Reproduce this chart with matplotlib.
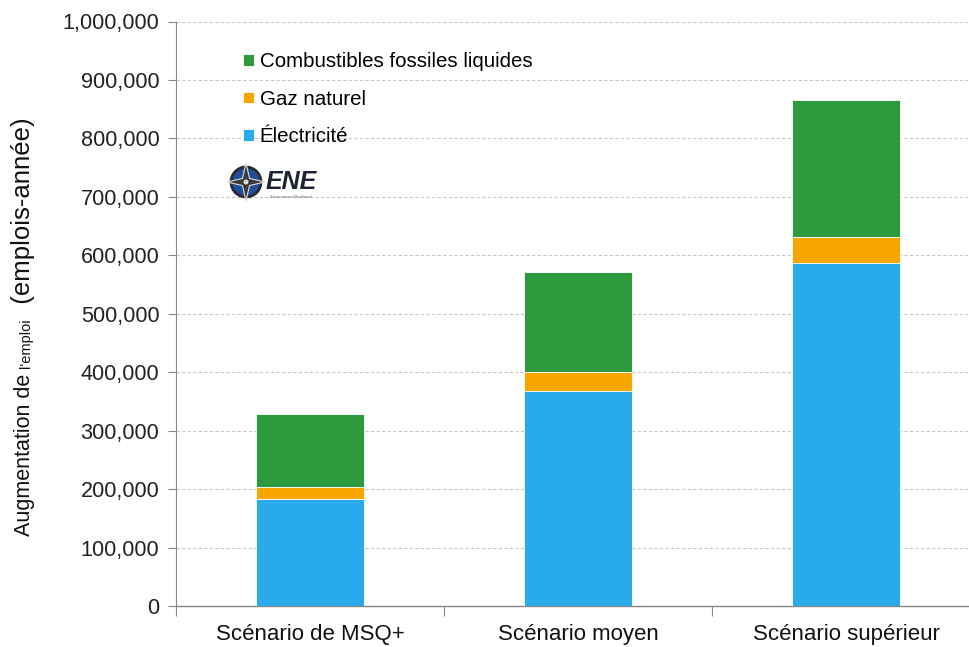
import numpy as np
import matplotlib
matplotlib.use("Agg")
from matplotlib import pyplot as plt
from matplotlib.ticker import MultipleLocator, FuncFormatter, FixedLocator
from matplotlib.patches import Circle, Polygon

plt.rcParams['font.family'] = ['Liberation Sans', 'DejaVu Sans']

# scenarios and job gains (emplois-année) by energy source
scenarios = ["Scénario de MSQ+", "Scénario moyen", "Scénario supérieur"]
electricite = [183000, 368000, 586000]
gaz_naturel = [20000, 33000, 45000]
liquides = [125000, 171000, 234000]

series_names = ["Électricité", "Gaz naturel", "Combustibles fossiles liquides"]
colors = ["#29ABEB", "#F7A600", "#2E9A3D"]

W, H = 969, 647
fig = plt.figure(figsize=(W / 100, H / 100), dpi=100)
ax = fig.add_axes([176 / W, 41 / H, 792 / W, 584.5 / H])

x = np.arange(len(scenarios))
bottom = np.zeros(len(scenarios))
bars = []
for vals, name, col in zip([electricite, gaz_naturel, liquides], series_names, colors):
    b = ax.bar(x, vals, width=0.4, bottom=bottom, color=col, label=name,
               edgecolor="white", linewidth=0.6, zorder=3)
    bars.append(b)
    bottom += np.array(vals)

# axes
ax.set_ylim(0, 1000000)
ax.set_xlim(-0.5, -0.5 + 792 / 268)
ax.yaxis.set_major_locator(MultipleLocator(100000))
ax.yaxis.set_major_formatter(FuncFormatter(lambda v, p: "{:,.0f}".format(v)))
ax.grid(axis="y", color="#C8C8C8", linestyle=(0, (3, 2)), linewidth=0.8, zorder=0)

ax.set_xticks(x)
ax.set_xticklabels(scenarios)
ax.xaxis.set_minor_locator(FixedLocator([-0.5, 0.5, 1.5]))
ax.tick_params(axis="x", which="major", length=0, pad=13, labelsize=16, labelcolor="#111111")
ax.tick_params(axis="x", which="minor", length=7, width=0.8, color="#888888", direction="out")
ax.tick_params(axis="y", length=6, width=0.8, color="#888888", labelsize=15.6,
               labelcolor="#222222", pad=6)

for s in ["top", "right"]:
    ax.spines[s].set_visible(False)
ax.spines["left"].set_color("#888888")
ax.spines["bottom"].set_color("#888888")
ax.spines["left"].set_linewidth(0.8)
ax.spines["bottom"].set_linewidth(1.0)

# legend, reversed so the top segment comes first
handles = [bars[2], bars[1], bars[0]]
leg = fig.legend(handles, [series_names[2], series_names[1], series_names[0]],
                 loc="upper left", bbox_to_anchor=(233 / W, 1 - 42 / H),
                 frameon=False, fontsize=14.8, handlelength=0.5, handleheight=0.5,
                 handletextpad=0.3, labelspacing=0.9, borderpad=0)

# ENE logo: compass rose and lettering
logo_ax = fig.add_axes([0, 0, 1, 1], facecolor="none")
logo_ax.set_xlim(0, W)
logo_ax.set_ylim(H, 0)
logo_ax.axis("off")
logo_ax.add_patch(Circle((246, 182), 15, facecolor="#1F4E9C", edgecolor="#2B2B2B", linewidth=2))
star = []
for k in range(8):
    ang = np.pi / 2 + k * np.pi / 4
    rr = 19 if k % 2 == 0 else 5
    star.append((246 + rr * np.cos(ang), 182 - rr * np.sin(ang)))
logo_ax.add_patch(Polygon(star, closed=True, facecolor="#3A3A3A", edgecolor="#DDDDDD", linewidth=0.8))
logo_ax.add_patch(Circle((246, 182), 2.5, facecolor="#DDDDDD", edgecolor="none"))
logo_ax.text(266, 182, "ENE", fontsize=18, fontweight="bold", fontstyle="italic",
             color="#1C2233", va="center", ha="left")
logo_ax.text(270, 197, "Environment Northeast", fontsize=3, color="#666666",
             va="center", ha="left", fontstyle="italic")

# y label with a smaller middle word, laid out bottom to top on one baseline
renderer = fig.canvas.get_renderer()
parts = [("Augmentation de ", 15.5), ("l'emploi", 10.5), ("  (emplois-année)", 18.5)]
ypix = 536
for txt, size in parts:
    t = fig.text(30 / W, 1 - ypix / H, txt, rotation=90, rotation_mode="anchor",
                 fontsize=size, ha="left", va="baseline", color="#111111")
    ext = t.get_window_extent(renderer)
    ypix -= ext.height

fig.savefig("out.png", dpi=100)
